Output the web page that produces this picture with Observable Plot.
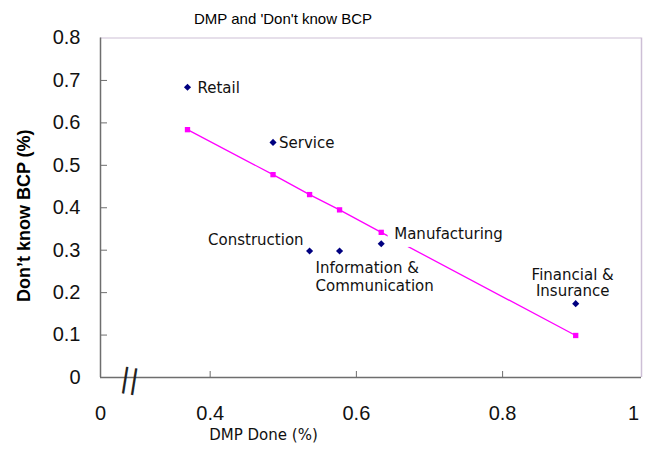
<!DOCTYPE html>
<html><head><meta charset="utf-8">
<script src="https://cdn.jsdelivr.net/npm/d3@7"></script>
<script src="https://cdn.jsdelivr.net/npm/@observablehq/plot@0.6"></script>
<style>
body{margin:0;background:#fff;}
#title{height:20px;position:relative;font:15px "Liberation Sans",Arial,sans-serif;color:#000;}
#title span{position:absolute;left:283px;top:10px;transform:translateX(-50%);white-space:nowrap;}
</style></head><body>
<div id="title"><span>DMP and 'Don't know BCP</span></div>
<div id="chart"></div>
<script>
const categories = ["Retail", "Service", "Construction", "Information &\nCommunication", "Manufacturing", "Financial &\nInsurance"];
const dmpDone = [0.369, 0.486, 0.536, 0.577, 0.634, 0.900];
const dontKnowBCP = [0.684, 0.554, 0.298, 0.298, 0.315, 0.174];
const trendValues = [0.584, 0.478, 0.431, 0.395, 0.342, 0.099];
const xDomain = [0.25, 0.99];
const xTickValues = [0.25, 0.4, 0.6, 0.8, 0.99];
const xTickLabels = ["0", "0.4", "0.6", "0.8", "1"];
const yTickValues = [0, 0.1, 0.2, 0.3, 0.4, 0.5, 0.6, 0.7, 0.8];
const yTickLabels = ["0", "0.1", "0.2", "0.3", "0.4", "0.5", "0.6", "0.7", "0.8"];
const xTitle = "DMP Done (%)";
const yTitle = "Don’t know BCP (%)";
const breakMark = "||";

const rows = categories.map((c, i) => ({name: c, x: dmpDone[i], y: dontKnowBCP[i], t: trendValues[i]}));
const xLab = new Map(xTickValues.map((v, i) => [v, xTickLabels[i]]));
const yLab = new Map(yTickValues.map((v, i) => [v, yTickLabels[i]]));
const labFont = "DejaVu Sans, Verdana, sans-serif";
const tickFont = "Liberation Sans, Arial, sans-serif";

function lab(name, opts) {
  return Plot.text(rows.filter(d => d.name === name), {
    x: "x", y: "y", text: "name", fontFamily: labFont, fontSize: 15, fill: "#111", ...opts
  });
}

const chart = Plot.plot({
  width: 646, height: 432,
  marginLeft: 100, marginRight: 5, marginTop: 17.5, marginBottom: 75,
  x: {domain: xDomain, axis: null},
  y: {domain: [0, 0.8], axis: null},
  marks: [
    Plot.ruleY([0.8], {stroke: "#cdbfd6", strokeWidth: 1.2}),
    Plot.ruleX([xDomain[1]], {stroke: "#cdbfd6", strokeWidth: 1.5}),
    Plot.ruleX([xDomain[0]], {stroke: "#6e6e6e", strokeWidth: 1.5}),
    Plot.ruleY([0], {stroke: "#6e6e6e", strokeWidth: 1.5}),
    Plot.axisY({ticks: yTickValues.slice(1, -1), tickSize: -7, stroke: "#6e6e6e", tickFormat: () => "", label: null}),
    Plot.axisX({ticks: xTickValues.slice(1, -1), tickSize: -6, stroke: "#6e6e6e", tickFormat: () => "", label: null}),
    Plot.axisY({ticks: yTickValues, tickSize: 0, tickPadding: 20, fontSize: 20, fontFamily: tickFont, fill: "#111", tickFormat: d => yLab.get(d), label: null}),
    Plot.axisX({ticks: xTickValues.slice(0, -1), tickSize: 0, tickPadding: 28, fontSize: 20, fontFamily: tickFont, fill: "#111", tickFormat: d => xLab.get(d), label: null}),
    Plot.axisX({ticks: xTickValues.slice(-1), tickSize: 0, tickPadding: 28, fontSize: 20, fontFamily: tickFont, fill: "#111", dx: -8, tickFormat: d => xLab.get(d), label: null}),
    Plot.text([breakMark], {x: 0.29, y: 0, text: d => d, fontSize: 27, fontFamily: "DejaVu Sans", rotate: 9, dy: 2, fill: "#222", letterSpacing: "-3px"}),
    Plot.text([xTitle], {frameAnchor: "bottom-left", textAnchor: "middle", text: d => d, dx: 163, dy: 62, fontSize: 15, fontFamily: labFont, fill: "#111"}),
    Plot.text([yTitle], {frameAnchor: "left", textAnchor: "middle", text: d => d, rotate: -90, dx: -76, dy: 8, fontSize: 18, letterSpacing: "1.2px", fontWeight: "bold", fontFamily: "Liberation Sans, Arial, sans-serif", fill: "#000"}),
    Plot.line(rows, {x: "x", y: "t", stroke: "#ff00ff", strokeWidth: 1.3}),
    Plot.text(rows.filter(d => d.name === "Manufacturing"), {x: "x", y: "y", text: "name", dx: 13, dy: -10, textAnchor: "start", fontFamily: labFont, fontSize: 15, fill: "white", stroke: "white", strokeWidth: 16}),
    Plot.dot(rows, {x: "x", y: "t", symbol: "square", r: 3, fill: "#ff00ff", stroke: "none"}),
    Plot.dot(rows, {x: "x", y: "y", symbol: "diamond2", r: 3.2, fill: "#000080", stroke: "none"}),
    lab("Retail", {dx: 10, dy: 1, textAnchor: "start"}),
    lab("Service", {dx: 6, dy: 1, textAnchor: "start"}),
    lab("Construction", {dx: -6, dy: -11, textAnchor: "end"}),
    lab("Information &\nCommunication", {dx: -24, dy: 25, textAnchor: "start", lineHeight: 1.2}),
    lab("Manufacturing", {dx: 13, dy: -10, textAnchor: "start"}),
    lab("Financial &\nInsurance", {dx: -3, dy: -21, textAnchor: "middle", lineHeight: 1.12})
  ]
});
document.getElementById("chart").appendChild(chart);
</script>
</body></html>
